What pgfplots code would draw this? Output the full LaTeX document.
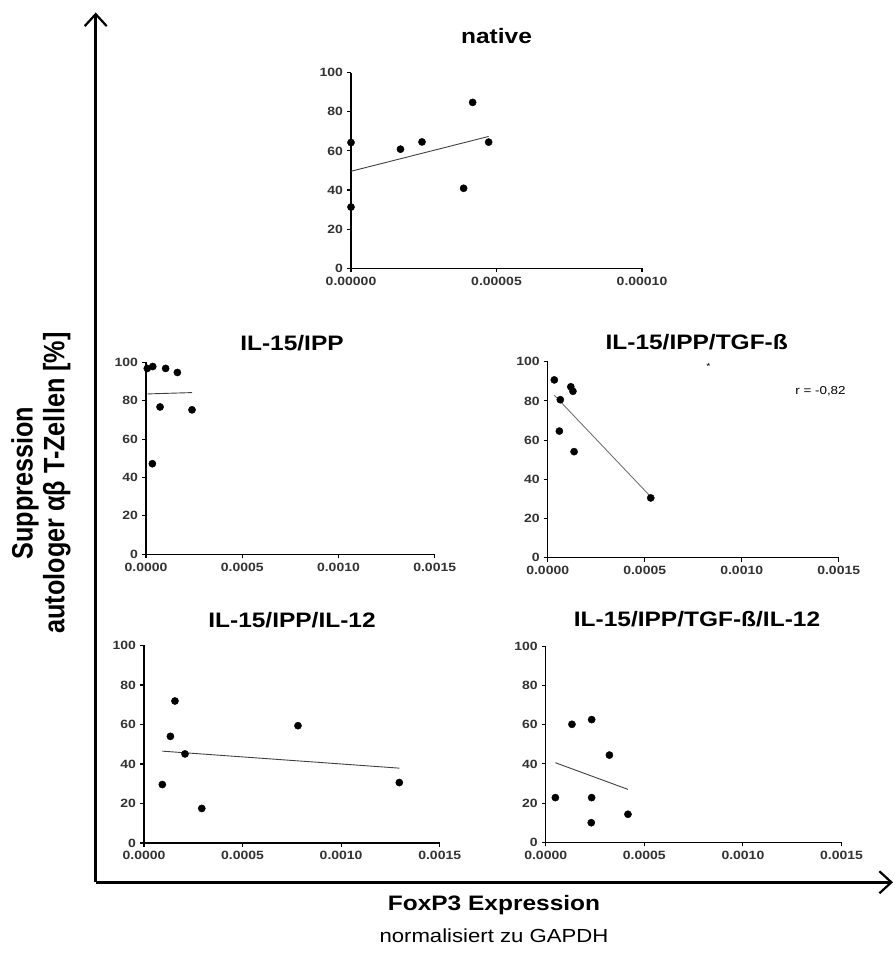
\documentclass[border=0pt]{standalone}
\usepackage{fontspec}
\setmainfont{Liberation Sans}[FakeStretch=1.17]
\newfontfamily\rotfont{Liberation Sans}[FakeStretch=0.855]
\usepackage{pgfplots}
\pgfplotsset{compat=1.18}
\usetikzlibrary{arrows.meta}

\pgfplotsset{
  panel/.style={
    scale only axis, anchor=south west,
    axis lines=left, axis line style={-, line width=1.2bp, black},
    ymin=0, ymax=100, ytick={0,20,40,60,80,100}, yticklabels={0,20,40,60,80,100},
    tick align=outside, major tick length=4bp, tick style={line width=1.1bp, black},
    scaled x ticks=false, scaled y ticks=false, clip=false,
    ticklabel style={font=\bfseries\fontsize{12}{12}\selectfont, text=black!80},
    yticklabel style={xshift=-0.5bp},
    xticklabel style={yshift=-1bp},
  },
  dots/.style={only marks, mark=*, mark size=3.6bp, black},
  fitl/.style={no marks, line width=0.9bp, black!75},
}

\begin{document}
\begin{tikzpicture}[x=1bp,y=1bp]
\useasboundingbox (0,0) rectangle (895,954);

% big frame arrows
\draw[line width=2.5bp, -{Straight Barb[length=12bp,width=22bp,line width=2.2bp]}] (95.7,71.7) -- (95.7,941.5);
\draw[line width=2.5bp, -{Straight Barb[length=12bp,width=22bp,line width=2.2bp]}] (95.7,71.7) -- (893,71.7);

% native
\begin{axis}[panel, at={(351bp,685.7bp)}, width=291bp, height=195.6bp,
  xmin=0, xmax=0.0001, xtick={0,0.00005,0.0001}, xticklabels={0.00000,0.00005,0.00010}]
\addplot[dots] coordinates {(0,64.3) (0,31.3) (0.0000170,60.9) (0.0000244,64.6) (0.0000418,84.8) (0.0000387,40.9) (0.0000473,64.5)};
\addplot[fitl] coordinates {(0,49.6) (0.0000473,67.4)};
\end{axis}

% IL-15/IPP
\begin{axis}[panel, at={(146bp,399.8bp)}, width=288.7bp, height=191.7bp,
  xmin=0, xmax=0.0015, xtick={0,0.0005,0.001,0.0015}, xticklabels={0.0000,0.0005,0.0010,0.0015}]
\addplot[dots] coordinates {(0.0000068,96.9) (0.000035,97.9) (0.000102,96.9) (0.000163,94.8) (0.000073,76.8) (0.000239,75.3) (0.000033,47.2)};
\addplot[fitl] coordinates {(0.0000088,83.6) (0.000239,84.3)};
\end{axis}

% IL-15/IPP/TGF-ß
\begin{axis}[panel, at={(547.7bp,396.3bp)}, width=291bp, height=196bp,
  xmin=0, xmax=0.0015, xtick={0,0.0005,0.001,0.0015}, xticklabels={0.0000,0.0005,0.0010,0.0015}]
\addplot[dots] coordinates {(0.000034,90.7) (0.000119,87.2) (0.00013,84.9) (0.000065,80.6) (0.00006,64.6) (0.000136,54.1) (0.000531,30.5)};
\addplot[no marks, line width=0.9bp, black!55] coordinates {(0.000034,82.9) (0.000531,31.1)};
\end{axis}

% IL-15/IPP/IL-12
\begin{axis}[panel, at={(144bp,111bp)}, width=295.7bp, height=197.5bp,
  xmin=0, xmax=0.0015, xtick={0,0.0005,0.001,0.0015}, xticklabels={0.0000,0.0005,0.0010,0.0015}]
\addplot[dots] coordinates {(0.000157,71.9) (0.000134,54.0) (0.000208,45.1) (0.000093,29.6) (0.000293,17.5) (0.000781,59.4) (0.001295,30.6)};
\addplot[fitl] coordinates {(0.000093,46.5) (0.001295,37.9)};
\end{axis}

% IL-15/IPP/TGF-ß/IL-12
\begin{axis}[panel, at={(545.7bp,111.7bp)}, width=295.8bp, height=196bp,
  xmin=0, xmax=0.0015, xtick={0,0.0005,0.001,0.0015}, xticklabels={0.0000,0.0005,0.0010,0.0015}]
\addplot[dots] coordinates {(0.000133,60.2) (0.000233,62.6) (0.000323,44.5) (0.000049,22.8) (0.000233,22.8) (0.000231,10.0) (0.000417,14.3)};
\addplot[fitl] coordinates {(0.000049,40.6) (0.000417,27.0)};
\end{axis}

% titles
\node[font=\bfseries\fontsize{21}{21}\selectfont, anchor=base] at (496.5,910) {native};
\node[font=\bfseries\fontsize{21}{21}\selectfont, anchor=base] at (292,603.5) {IL-15/IPP};
\node[font=\bfseries\fontsize{21}{21}\selectfont, anchor=base] at (696.7,604) {IL-15/IPP/TGF-ß};
\node[font=\bfseries\fontsize{21}{21}\selectfont, anchor=base] at (292,326.7) {IL-15/IPP/IL-12};
\node[font=\bfseries\fontsize{21}{21}\selectfont, anchor=base] at (697,327.3) {IL-15/IPP/TGF-ß/IL-12};

% annotations
\node[font=\fontsize{9}{9}\selectfont] at (708.3,588) {*};
\node[font=\fontsize{11.5}{11.5}\selectfont] at (820.5,563) {r = -0,82};

% axis titles
\node[rotate=90, align=center, font=\rotfont\bfseries\fontsize{29.6}{31.7}\selectfont] at (40.9,471) {Suppression\\autologer αβ T-Zellen [\%]};
\node[font=\bfseries\fontsize{21}{21}\selectfont] at (494,49) {FoxP3 Expression};
\node[font=\fontsize{19}{19}\selectfont] at (494,18) {normalisiert zu GAPDH};
\end{tikzpicture}
\end{document}
